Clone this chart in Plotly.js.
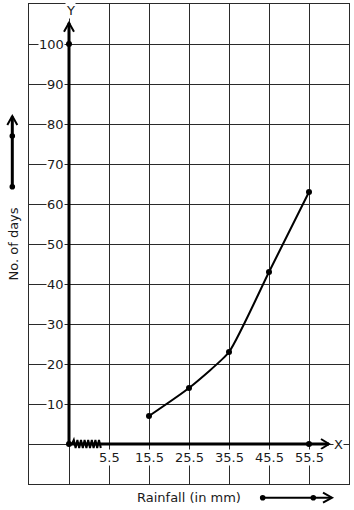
<!DOCTYPE html>
<html><head><meta charset="utf-8">
<script src="https://cdn.plot.ly/plotly-3.0.1.min.js"></script>
<style>html,body{margin:0;padding:0;background:#fff;}#chart{width:354px;height:510px;}</style>
</head><body><div id="chart"></div>
<script>
// ---- data ----
const rainfall = [15.5, 25.5, 35.5, 45.5, 55.5];
const days = [7, 14, 23, 43, 63];
const xTickVals = [5.5, 15.5, 25.5, 35.5, 45.5, 55.5];
const xTickText = ['5.5', '15.5', '25.5', '35.5', '45.5', '55.5'];
const yTickVals = [10, 20, 30, 40, 50, 60, 70, 80, 90, 100];
const yTickText = ['10', '20', '30', '40', '50', '60', '70', '80', '90', '100'];
const xTitle = 'Rainfall (in mm)';
const yTitle = 'No. of days';

// ---- geometry ----
const W = 354, H = 510;
const mL = 29, mR = 5, mT = 4, mB = 26;
const pw = W - mL - mR, ph = H - mT - mB;
const xRange = [-14.5, 65.5], yRange = [-10, 110];
const breakPos = -4.5; // where the (broken) y-axis sits
const yMaxMark = 100;
const px2dx = p => xRange[0] + (p - mL) / pw * (xRange[1] - xRange[0]);
const px2dy = p => yRange[0] + (mT + ph - p) / ph * (yRange[1] - yRange[0]);
const ux = (xRange[1] - xRange[0]) / pw; // data units per px
const uy = (yRange[1] - yRange[0]) / ph;
const ppx = p => (p - mL) / pw;
const ppy = p => (mT + ph - p) / ph;

const font = {family: 'DejaVu Sans, sans-serif', size: 13, color: '#1a1a1a'};

const traces = [
  {x: rainfall, y: days, type: 'scatter', mode: 'lines+markers',
   line: {color: '#000', width: 2, shape: 'spline', smoothing: 0.5},
   marker: {color: '#000', size: 6}, hoverinfo: 'x+y'},
  {x: [breakPos, breakPos, rainfall[rainfall.length - 1]], y: [0, yMaxMark, 0],
   type: 'scatter', mode: 'markers', marker: {color: '#000', size: 6}, hoverinfo: 'skip'}
];

const shapes = [];
const xTip = px2dx(329), yTip = px2dy(22.7);
// thick axes
shapes.push({type: 'line', xref: 'x', yref: 'y', x0: breakPos, y0: 0, x1: xTip, y1: 0, line: {color: '#000', width: 3}, layer: 'above'});
shapes.push({type: 'line', xref: 'x', yref: 'y', x0: breakPos, y0: 0, x1: breakPos, y1: yTip, line: {color: '#000', width: 3}, layer: 'above'});
// arrow heads on axes
shapes.push({type: 'path', xref: 'x', yref: 'y', layer: 'above', line: {color: '#000', width: 2},
  path: `M${xTip - 8 * ux},${5 * uy} L${xTip},0 L${xTip - 8 * ux},${-5 * uy}`});
shapes.push({type: 'path', xref: 'x', yref: 'y', layer: 'above', line: {color: '#000', width: 2},
  path: `M${breakPos - 5 * ux},${yTip - 9 * uy} L${breakPos},${yTip} L${breakPos + 5 * ux},${yTip - 9 * uy}`});
// zigzag break marker
(function () {
  let p = `M${px2dx(72)},0`;
  let xs = 72, k = 0;
  while (xs < 99) {
    xs += 1.8;
    p += ` L${px2dx(xs)},${(k % 2 === 0 ? 4 : -4) * uy}`;
    k++;
  }
  p += ` L${px2dx(100)},0`;
  shapes.push({type: 'path', xref: 'x', yref: 'y', layer: 'above', path: p, line: {color: '#000', width: 2}});
})();
// left arrow (paper)
const lx = 12.3;
shapes.push({type: 'line', xref: 'paper', yref: 'paper', x0: ppx(lx), y0: ppy(186.7), x1: ppx(lx), y1: ppy(116.5), line: {color: '#000', width: 3}});
shapes.push({type: 'path', xref: 'paper', yref: 'paper', line: {color: '#000', width: 2},
  path: `M${ppx(lx - 5)},${ppy(125)} L${ppx(lx)},${ppy(116)} L${ppx(lx + 5)},${ppy(125)}`});
// bottom arrow (paper)
const by = 497.7;
shapes.push({type: 'line', xref: 'paper', yref: 'paper', x0: ppx(262.7), y0: ppy(by), x1: ppx(331.5), y1: ppy(by), line: {color: '#000', width: 2}});
shapes.push({type: 'path', xref: 'paper', yref: 'paper', line: {color: '#000', width: 2},
  path: `M${ppx(323)},${ppy(by - 5)} L${ppx(332)},${ppy(by)} L${ppx(323)},${ppy(by + 5)}`});
// dots on decorative arrows
[[lx, 136], [lx, 186.7], [262.7, by], [313.3, by]].forEach(([x, y]) => {
  shapes.push({type: 'circle', xref: 'paper', yref: 'paper', xsizemode: 'pixel', ysizemode: 'pixel',
    xanchor: ppx(x), yanchor: ppy(y), x0: -2.8, x1: 2.8, y0: -2.8, y1: 2.8,
    fillcolor: '#000', line: {color: '#000', width: 0}});
});

const annotations = [];
xTickVals.forEach((v, i) => annotations.push({x: v, y: px2dy(457), xref: 'x', yref: 'y', text: xTickText[i],
  showarrow: false, xanchor: 'center', yanchor: 'middle', bgcolor: '#fff', borderpad: 0, font: font}));
yTickVals.forEach((v, i) => annotations.push({x: px2dx(65), y: v, xref: 'x', yref: 'y', text: yTickText[i],
  showarrow: false, xanchor: 'right', yanchor: 'middle', bgcolor: '#fff', borderpad: 0, font: font}));
annotations.push({x: breakPos + 0.3, y: px2dy(10), xref: 'x', yref: 'y', text: 'Y', showarrow: false,
  xanchor: 'center', yanchor: 'middle', bgcolor: '#fff', borderpad: 0, font: font});
annotations.push({x: px2dx(338.5), y: 0, xref: 'x', yref: 'y', text: 'X', showarrow: false,
  xanchor: 'center', yanchor: 'middle', bgcolor: '#fff', borderpad: 0, font: font});
annotations.push({x: ppx(189), y: ppy(497), xref: 'paper', yref: 'paper', text: xTitle, showarrow: false,
  xanchor: 'center', yanchor: 'middle', font: font});
annotations.push({x: ppx(13), y: ppy(244.5), xref: 'paper', yref: 'paper', text: yTitle, showarrow: false,
  textangle: -90, xanchor: 'center', yanchor: 'middle', font: font});

const axisBase = {showgrid: true, gridcolor: '#2a2a2a', gridwidth: 1, zeroline: false,
  showticklabels: false, ticks: '', showline: true, mirror: true, linecolor: '#2a2a2a', linewidth: 1, fixedrange: true};

const layout = {
  width: W, height: H,
  margin: {l: mL, r: mR, t: mT, b: mB, pad: 0},
  paper_bgcolor: '#fff', plot_bgcolor: '#fff',
  showlegend: false,
  font: font,
  xaxis: Object.assign({}, axisBase, {range: xRange, tick0: 5.5, dtick: 10}),
  yaxis: Object.assign({}, axisBase, {range: yRange, tick0: 0, dtick: 10}),
  shapes: shapes,
  annotations: annotations
};

Plotly.newPlot('chart', traces, layout, {displayModeBar: false, staticPlot: true});
</script>
</body></html>
